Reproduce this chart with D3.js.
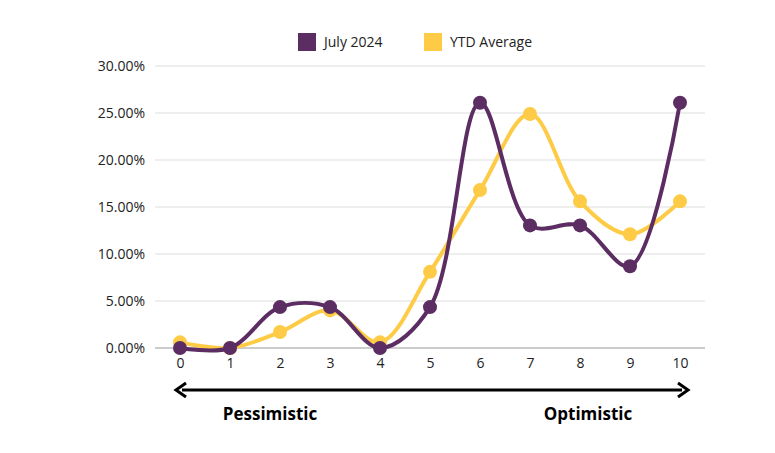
<!DOCTYPE html>
<html><head><meta charset="utf-8">
<script src="https://cdn.jsdelivr.net/npm/d3@7"></script>
<style>body{margin:0;background:#fff;font-family:"Open Sans",sans-serif}</style>
</head><body><div id="chart"></div>
<script>
const cats = [0,1,2,3,4,5,6,7,8,9,10];
const july = [0,0,4.35,4.35,0,4.35,26.09,13.04,13.04,8.7,26.09];
const ytd = [0.6,0,1.7,4.0,0.6,8.1,16.8,24.9,15.6,12.1,15.6];
const yTicks = [0,5,10,15,20,25,30];
const seriesNames = ["July 2024","YTD Average"];
const colors = ["#5b2d62","#fdcb45"];

const w = 775, h = 453;
const svg = d3.select('#chart').append('svg').attr('width',w).attr('height',h);
const x = d3.scaleLinear().domain([0,10]).range([180,680]);
const y = d3.scaleLinear().domain([0,30]).range([348,66]);

// grid
svg.append('g').selectAll('line').data(yTicks).enter().append('line')
  .attr('x1',155).attr('x2',705).attr('y1',d=>y(d)).attr('y2',d=>y(d))
  .attr('stroke',d=>d===0?'#999':'#ddd').attr('stroke-width',1);

const yAxis = d3.axisLeft(y).tickValues(yTicks).tickFormat(d=>d.toFixed(2)+'%').tickSize(0).tickPadding(10);
const ga = svg.append('g').attr('transform','translate(155,0)').call(yAxis);
ga.select('.domain').remove();
ga.selectAll('text').attr('font-size',14).attr('fill','#222').attr('font-family','"Open Sans",sans-serif');

const xAxis = d3.axisBottom(x).tickValues(cats).tickSize(0).tickPadding(10);
const gx = svg.append('g').attr('transform','translate(0,348)').call(xAxis);
gx.select('.domain').remove();
gx.selectAll('text').attr('font-size',14).attr('fill','#222').attr('font-family','"Open Sans",sans-serif');

const line = d3.line().x((d,i)=>x(cats[i])).y(d=>y(d)).curve(d3.curveCatmullRom.alpha(0.5));
[ytd, july].forEach((s,k)=>{
  const c = k===0?colors[1]:colors[0];
  svg.append('path').datum(s).attr('d',line).attr('fill','none').attr('stroke',c).attr('stroke-width',4);
  svg.append('g').selectAll('circle').data(s).enter().append('circle')
    .attr('cx',(d,i)=>x(cats[i])).attr('cy',d=>y(d)).attr('r',7).attr('fill',c);
});

// legend
const lg = svg.append('g');
seriesNames.forEach((n,i)=>{
  const lx = [298,424][i];
  lg.append('rect').attr('x',lx).attr('y',33).attr('width',18).attr('height',18).attr('fill',colors[i]);
  lg.append('text').attr('x',lx+26).attr('y',47).text(n).attr('font-size',14).attr('fill','#222');
});

// arrow
const ay = 390;
svg.append('line').attr('x1',182).attr('x2',682).attr('y1',ay).attr('y2',ay).attr('stroke','#000').attr('stroke-width',3);
svg.append('path').attr('d',`M186,${ay-7} L176,${ay} L186,${ay+7}`).attr('fill','none').attr('stroke','#000').attr('stroke-width',3);
svg.append('path').attr('d',`M678,${ay-7} L688,${ay} L678,${ay+7}`).attr('fill','none').attr('stroke','#000').attr('stroke-width',3);
svg.append('text').attr('x',270).attr('y',420).attr('text-anchor','middle').attr('font-weight','bold').attr('font-size',17).text('Pessimistic');
svg.append('text').attr('x',588).attr('y',420).attr('text-anchor','middle').attr('font-weight','bold').attr('font-size',17).text('Optimistic');
</script></body></html>
